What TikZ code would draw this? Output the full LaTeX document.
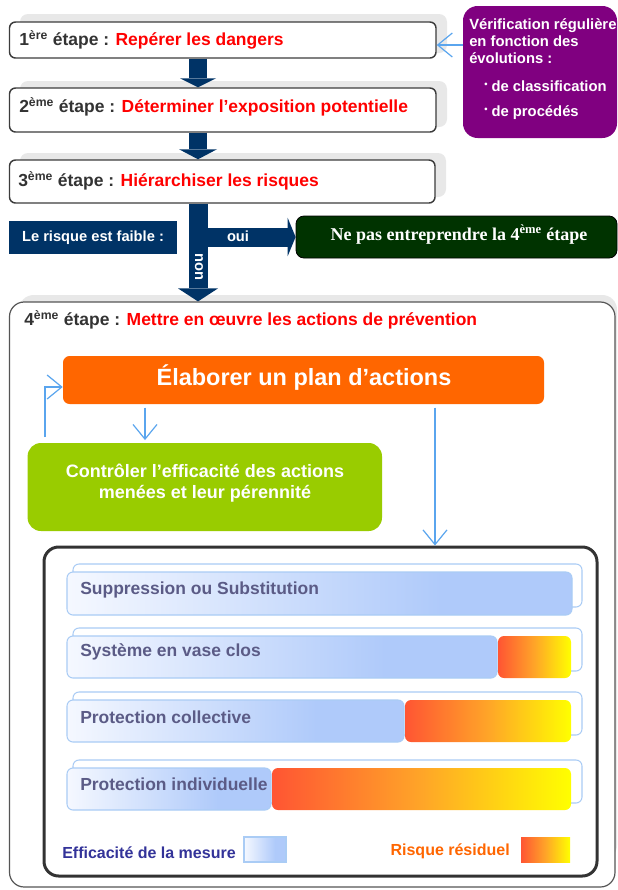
\documentclass[tikz,border=0pt]{standalone}
\usepackage{fontspec}
\setmainfont{Liberation Sans}
\newfontfamily\serifbf{Liberation Serif}
\usetikzlibrary{arrows.meta,fit,calc}
\definecolor{stepgray}{HTML}{3C3C3C}
\definecolor{shadowgray}{HTML}{E8E8E8}
\definecolor{darktxt}{HTML}{333333}
\definecolor{redc}{HTML}{FF0000}
\definecolor{navyc}{HTML}{003366}
\definecolor{purp}{HTML}{800080}
\definecolor{dgreen}{HTML}{003300}
\definecolor{orangec}{HTML}{FF6600}
\definecolor{limec}{HTML}{99CC00}
\definecolor{lblue}{HTML}{5AA5EE}
\definecolor{barline}{HTML}{AACCF5}
\definecolor{blA}{HTML}{F5F8FF}
\definecolor{blB}{HTML}{AFCAFA}
\definecolor{orA}{HTML}{FF5533}
\definecolor{orM}{HTML}{FFA528}
\definecolor{orB}{HTML}{FFFF00}
\definecolor{labc}{HTML}{5B5B86}
\definecolor{legblue}{HTML}{333399}
\definecolor{boxgray}{HTML}{555555}
\pgfdeclarehorizontalshading{bluegrad}{100bp}{color(0bp)=(blA); color(25bp)=(blA); color(62bp)=(blB); color(100bp)=(blB)}
\pgfdeclarehorizontalshading{orangegrad}{100bp}{color(0bp)=(orA); color(25bp)=(orA); color(50bp)=(orM); color(75bp)=(orB); color(100bp)=(orB)}
\tikzset{
  shadowbox/.style={fill=shadowgray, rounded corners=6pt, inner sep=0pt},
  stepbox/.style={draw=stepgray, line width=1.1pt, rounded corners=4.5pt, fill=white, inner sep=0pt},
  steptxt/.style={anchor=west, inner sep=0pt, font=\fontsize{13.1}{15}\selectfont\bfseries, text=darktxt},
  whitetxt/.style={inner sep=0pt, text=white, font=\fontsize{11}{13}\selectfont\bfseries},
  bigarrow/.style={draw=navyc, line width=13.5pt},
  thinarrow/.style={draw=lblue, line width=0.9pt, -{Straight Barb[length=11pt,width=18pt]}},
  barback/.style={draw=barline, line width=0.8pt, rounded corners=4.5pt, fill=white, inner sep=0pt},
  barfront/.style={draw=barline, line width=0.8pt, rounded corners=4.5pt, shade, shading=bluegrad, inner sep=0pt},
  barrisk/.style={rounded corners=4.5pt, shade, shading=orangegrad, inner sep=0pt},
  barlab/.style={anchor=west, inner sep=0pt, text=labc, font=\fontsize{13.1}{15}\selectfont\bfseries},
  legtxt/.style={inner sep=0pt, font=\fontsize{12}{14}\selectfont\bfseries}
}
\begin{document}
\begin{tikzpicture}[x=0.75pt, y=-0.75pt]
\useasboundingbox (0,0) rectangle (618,890);
\fill[white] (0,0) rectangle (618,890);
\coordinate (axis) at (198,0);

% Step boxes
\node[shadowbox, fit={(20,14) (447,53)}] (sh1) {};
\node[stepbox, fit={(9.5,22) (436,58)}] (s1) {};
\node[steptxt] (t1) at (19,40) {1\textsuperscript{ère} étape : \textcolor{redc}{Repérer les dangers}};

\node[shadowbox, fit={(20,81) (447,127)}] (sh2) {};
\node[stepbox, fit={(9.5,88) (436,132)}] (s2) {};
\node[steptxt] (t2) at (19,107) {2\textsuperscript{ème} étape : \textcolor{redc}{Déterminer l'exposition potentielle}};

\node[shadowbox, fit={(20,153) (446,197)}] (sh3) {};
\node[stepbox, fit={(9.5,160) (435,203)}] (s3) {};
\node[steptxt] (t3) at (18,181) {3\textsuperscript{ème} étape : \textcolor{redc}{Hiérarchiser les risques}};

% Purple box
\node[fill=purp, rounded corners=11pt, inner sep=0pt, fit={(463,6) (617,138)}] (verif) {};
\node[whitetxt, anchor=west, align=left, font=\fontsize{11.1}{12.75}\selectfont\bfseries] (vt) at (469,41.5) {Vérification régulière\\en fonction des\\évolutions :};
\node[whitetxt, anchor=west, font=\fontsize{11.1}{13}\selectfont\bfseries] (b1) at (484,86) {\raisebox{3pt}{\fontsize{7}{7}\selectfont\textbullet}\hspace{3pt}de classification};
\node[whitetxt, anchor=west, font=\fontsize{11.1}{13}\selectfont\bfseries] (b2) at (484,113) {\raisebox{3pt}{\fontsize{7}{7}\selectfont\textbullet}\hspace{3pt}de procédés};
\coordinate (va) at ($(s1.east)+(0,5)$);
\draw[thinarrow] (verif.west |- va) -- (va);

% Big arrows between steps
\draw[bigarrow, -{Triangle[length=6.75pt,width=27pt,line width=0pt]}] (s1.south -| axis) -- (s2.north -| axis);
\draw[bigarrow, -{Triangle[length=7.5pt,width=28.5pt,line width=0pt]}] (s2.south -| axis) -- (s3.north -| axis);

% Decision
\node[fill=navyc, inner sep=0pt, fit={(9,221) (177,254)}] (risk) {};
\node[whitetxt] (risktxt) at (93,237.5) {Le risque est faible :};
\node[fill=dgreen, draw=black, line width=0.6pt, rounded corners=6pt, inner sep=0pt, fit={(296,216) (617,258)}] (nogo) {};
\node[inner sep=0pt, text=white, font=\serifbf\bfseries\fontsize{13.5}{15}\selectfont] (nogotxt) at (459,235) {Ne pas entreprendre la 4\textsuperscript{ème} étape};

% Step 4 frame
\node[shadowbox, rounded corners=11pt, fit={(19,295) (617,860)}] (sh4) {};
\node[draw=boxgray, line width=0.9pt, rounded corners=11pt, fill=white, inner sep=0pt, fit={(9.5,302) (615,887)}] (st4) {};

\draw[bigarrow, line width=14.25pt, -{Triangle[length=6pt,width=29pt,line width=0pt]}] (nogo.west -| axis) -- (nogo.west);
\draw[bigarrow, line width=14.25pt, -{Triangle[length=9.75pt,width=30pt,line width=0pt]}] (s3.south -| axis) -- (st4.north -| axis);
\node[whitetxt] (oui) at (238,236) {oui};
\node[whitetxt, rotate=-90] (non) at (199,267) {non};

\node[steptxt] (t4) at (24,320) {4\textsuperscript{ème} étape : \textcolor{redc}{Mettre en œuvre les actions de prévention}};

% Plan and control
\node[fill=orangec, rounded corners=5pt, inner sep=0pt, fit={(63,356) (544,404)}] (plan) {};
\node[inner sep=0pt, text=white, font=\fontsize{17.6}{20}\selectfont\bfseries] (plantxt) at (304,378) {Élaborer un plan d’actions};
\node[fill=limec, rounded corners=10pt, inner sep=0pt, fit={(27.6,443) (382,531)}] (ctl) {};
\node[inner sep=0pt, text=white, align=center, font=\fontsize{13.5}{16}\selectfont\bfseries] (ctltxt) at (205,483) {Contrôler l’efficacité des actions\\menées et leur pérennité};

% Inner box
\node[draw=black!80, line width=2.25pt, rounded corners=11pt, inner sep=0pt, fit={(44,547) (597,876)}] (inner) {};

% Thin blue connectors
\coordinate (lp) at (45,437);
\draw[thinarrow] (lp) |- ($(plan.west)+(0,7)$);
\coordinate (xa) at (145,0);
\draw[thinarrow, shorten <=2.5pt, shorten >=2pt] (plan.south -| xa) -- (ctl.north -| xa);
\coordinate (xb) at (435,0);
\draw[thinarrow, shorten <=2.5pt] (plan.south -| xb) -- (inner.north -| xb);

% Bars
\node[barback, fit={(73,564) (582,607)}] (bb1) {};
\node[barfront, fit={(67,572) (572,615)}] (bf1) {};
\node[barlab] (l1) at (80,590) {Suppression ou Substitution};

\node[barback, fit={(73,628) (582,671)}] (bb2) {};
\node[barfront, fit={(67,636) (497,678)}] (bf2) {};
\node[barrisk, fit={(498,636) (571,678)}] (br2) {};
\node[barlab] (l2) at (80,652) {Système en vase clos};

\node[barback, fit={(73,692) (582,735)}] (bb3) {};
\node[barfront, fit={(67,700) (404,742)}] (bf3) {};
\node[barrisk, fit={(405,700) (571,742)}] (br3) {};
\node[barlab] (l3) at (80,717) {Protection collective};

\node[barback, fit={(73,760) (582,803)}] (bb4) {};
\node[barfront, fit={(67,768) (271,810)}] (bf4) {};
\node[barrisk, fit={(272,768) (571,810)}] (br4) {};
\node[barlab] (l4) at (80,784) {Protection individuelle};

% Legend
\node[legtxt, anchor=west, text=legblue] (leg1) at (62,853) {Efficacité de la mesure};
\node[draw=barline, line width=0.8pt, shade, shading=bluegrad, inner sep=0pt, fit={(244,837) (286,862)}] (sw1) {};
\node[legtxt, anchor=east, text=orangec] (leg2) at (510,851) {Risque résiduel};
\node[shade, shading=orangegrad, inner sep=0pt, fit={(521,837) (570,862)}] (sw2) {};
\end{tikzpicture}
\end{document}
